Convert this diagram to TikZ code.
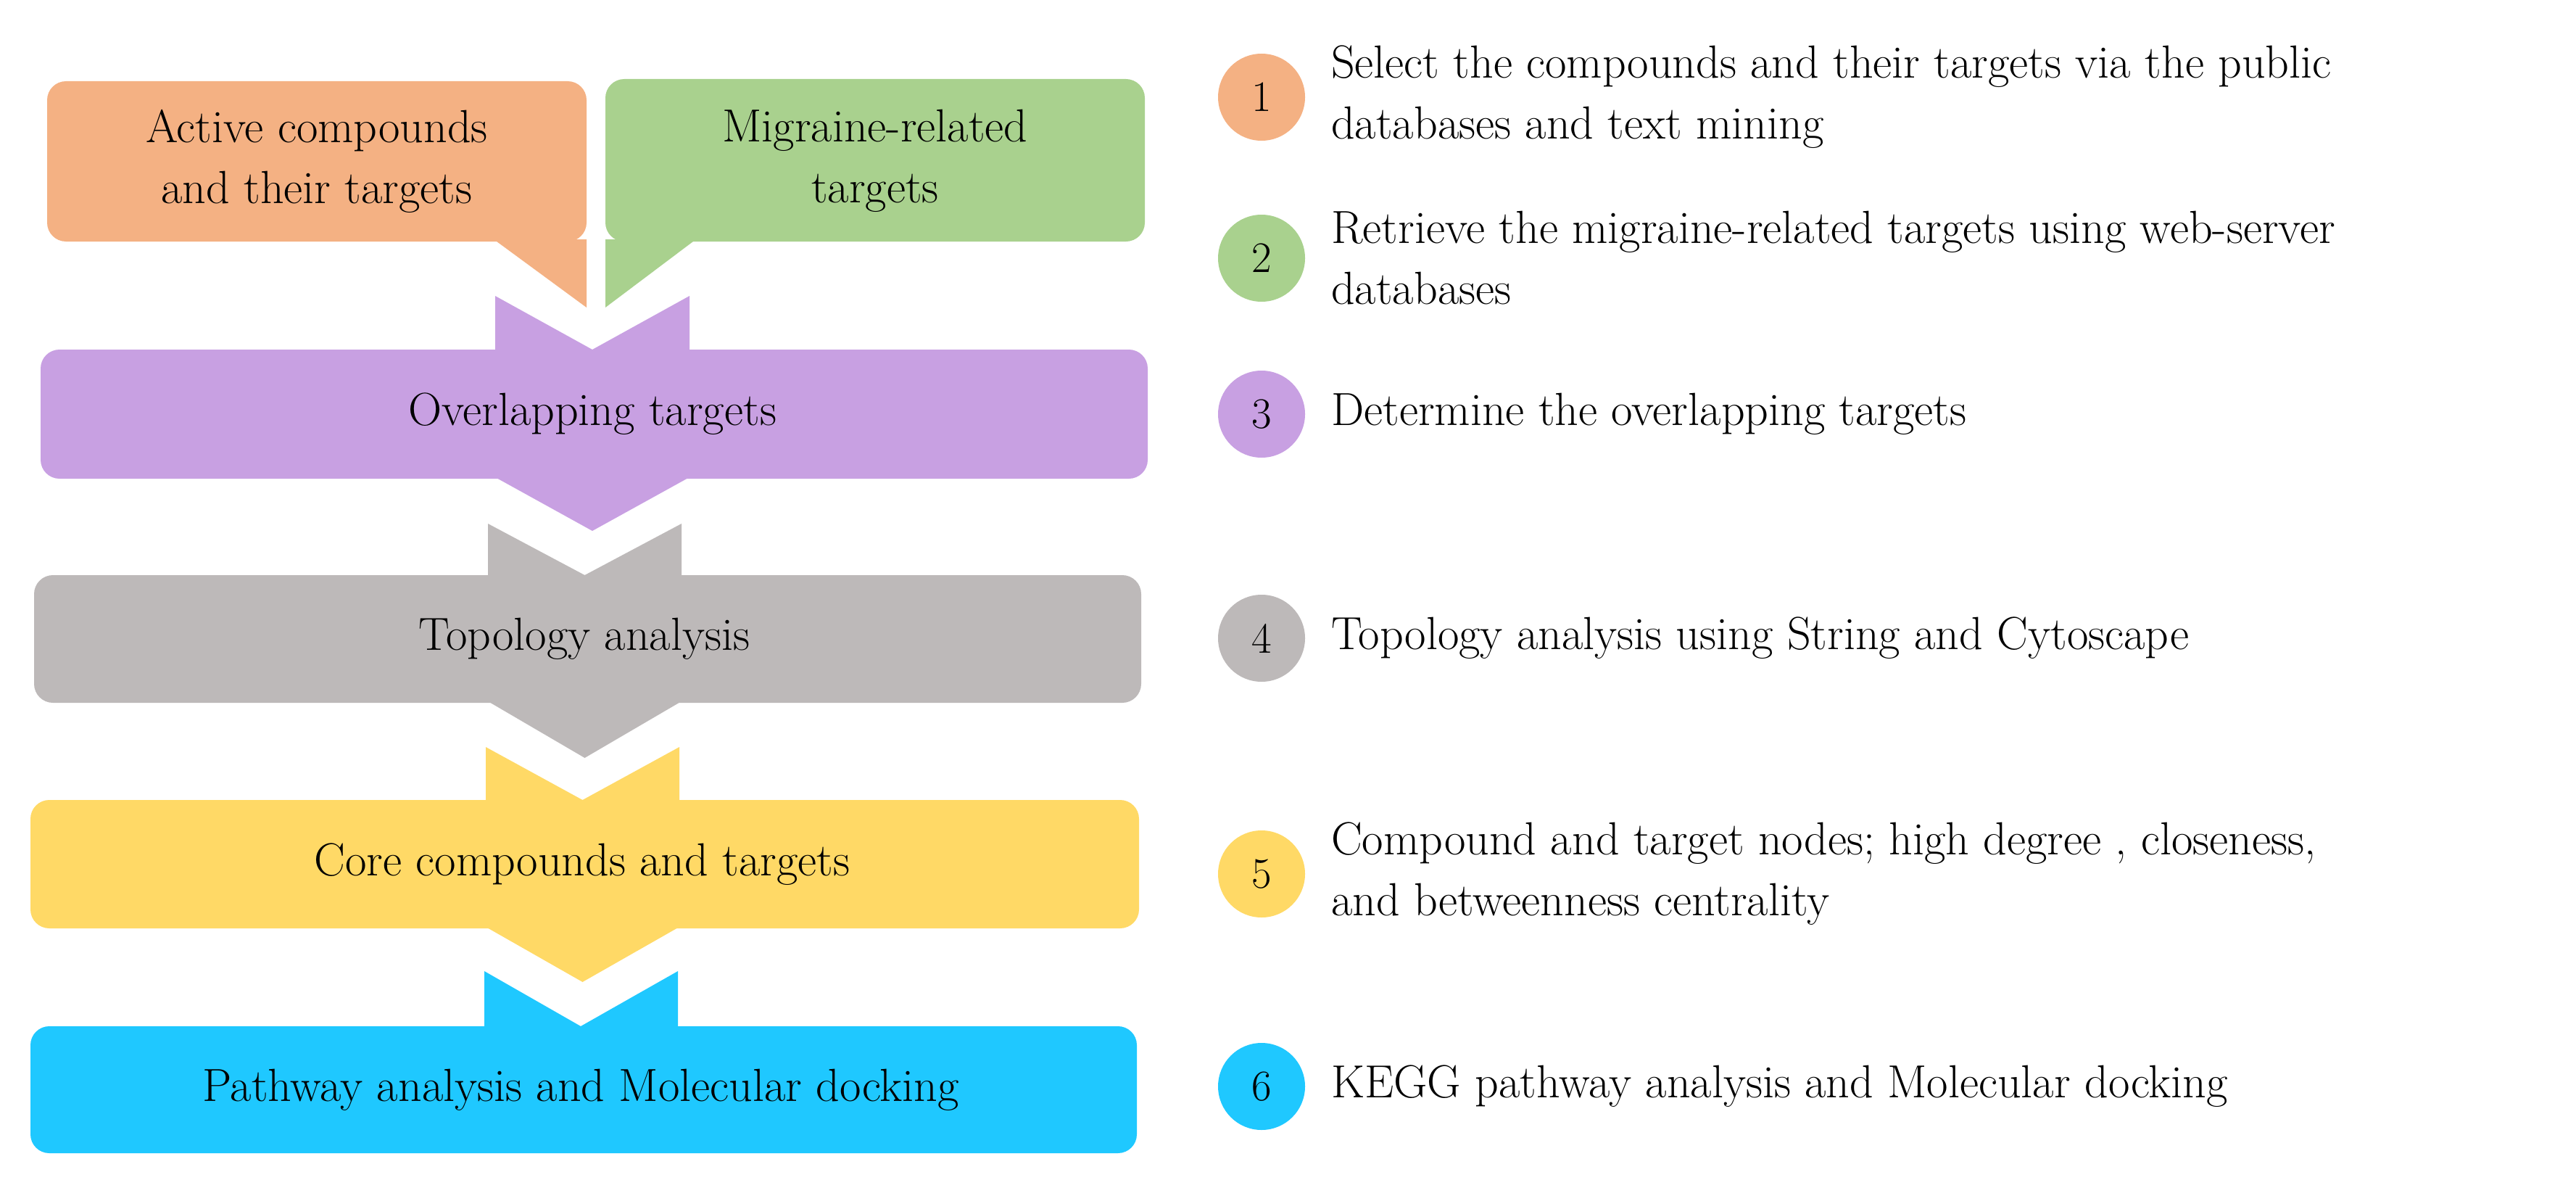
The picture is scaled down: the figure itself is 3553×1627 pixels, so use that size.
\documentclass[tikz,border=0pt]{standalone}
\begin{document}
\begin{tikzpicture}[x=1pt,y=-1pt,
  txt/.style={font=\fontsize{64}{84}\selectfont, align=center, inner sep=0pt},
  rtxt/.style={font=\fontsize{64}{84}\selectfont, align=left, anchor=west, inner sep=0pt},
  num/.style={circle, minimum size=120pt, inner sep=0pt, font=\fontsize{60}{60}\selectfont},
  bodyr/.style={rounded corners=26pt}]
\definecolor{cOr}{HTML}{F4B183}
\definecolor{cGr}{HTML}{A9D18E}
\definecolor{cPu}{HTML}{C8A0E2}
\definecolor{cGy}{HTML}{BDB9B9}
\definecolor{cYe}{HTML}{FFD966}
\definecolor{cBl}{HTML}{1FC8FF}
\useasboundingbox (0,0) rectangle (3553,1627);
% callouts
\fill[cOr, bodyr] (65,112) rectangle (809,333);
\fill[cOr] (681,330) -- (809,330) -- (809,424) -- cycle;
\fill[cGr, bodyr] (835,109) rectangle (1579,333);
\fill[cGr] (835,330) -- (960,330) -- (835,424) -- cycle;
\node[txt] (a) at (437,222) {Active compounds\\and their targets};
\node[txt] (m) at (1207,222) {Migraine-related\\targets};
% stage shapes: #1 color, x1,x2, tabL,tabR, tabTop, bodyTop, bodyBot, tip
\newcommand{\stage}[9]{%
  \fill[#1, bodyr] (#2,#7) rectangle (#3,#8);
  \fill[#1] (#4,#6) -- ({(#4+#5)/2},#7) -- (#5,#6) -- (#5,#7+2) -- (#4,#7+2) -- cycle;
  \fill[#1] (#4,#8-2) -- ({(#4+#5)/2},#9) -- (#5,#8-2) -- cycle;}
\stage{cPu}{56}{1583}{683}{951}{408}{482}{660}{732}
\stage{cGy}{47}{1574}{673}{940}{722}{793}{969}{1045}
\stage{cYe}{42}{1571}{670}{937}{1030}{1103}{1280}{1354}
\fill[cBl, bodyr] (42,1415) rectangle (1568,1590);
\fill[cBl] (668,1339) -- (801,1415) -- (935,1339) -- (935,1417) -- (668,1417) -- cycle;
\node[txt] (o) at (817,571) {Overlapping targets};
\node[txt] (t) at (806,881) {Topology analysis};
\node[txt] (c) at (803,1192) {Core compounds and targets};
\node[txt] (p) at (801,1503) {Pathway analysis and Molecular docking};
% numbered list
\node[num, fill=cOr] (n1) at (1740,134) {1};
\node[num, fill=cGr] (n2) at (1740,356) {2};
\node[num, fill=cPu] (n3) at (1740,571) {3};
\node[num, fill=cGy] (n4) at (1740,880) {4};
\node[num, fill=cYe] (n5) at (1740,1205) {5};
\node[num, fill=cBl] (n6) at (1740,1498) {6};
\node[rtxt] (d1) at (1836,134) {Select the compounds and their targets via the public\\databases and text mining};
\node[rtxt] (d2) at (1836,356) {Retrieve the migraine-related targets using web-server\\databases};
\node[rtxt] (d3) at (1836,571) {Determine the overlapping targets};
\node[rtxt] (d4) at (1836,880) {Topology analysis using String and Cytoscape};
\node[rtxt] (d5) at (1836,1205) {Compound and target nodes; high degree , closeness,\\and betweenness centrality};
\node[rtxt] (d6) at (1836,1498) {KEGG pathway analysis and Molecular docking};
\end{tikzpicture}
\end{document}
